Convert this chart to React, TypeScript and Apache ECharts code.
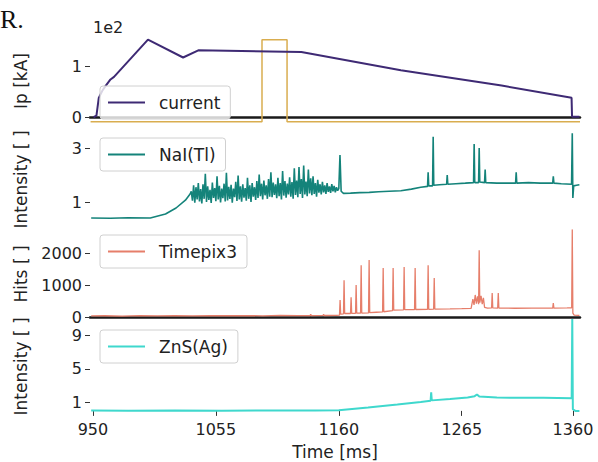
import React, { useEffect, useRef } from "react";
import * as echarts from "echarts";

// ---------- data ----------
const xTicks = [950, 1055, 1160, 1265, 1360];
const currentTicks = [0, 100];
const naiTicks = [1, 3];
const timepixTicks = [0, 1000, 2000];
const znsTicks = [1, 5, 9];

// plasma current [kA] vs time [ms]
const currentData: [number, number][] = [
  [950.5, 0], [953, 3], [955, 38], [958, 52], [961, 62], [965, 74], [968, 79],
  [997, 152], [1027, 117], [1040, 131], [1128, 128], [1213, 92], [1299, 62],
  [1358.8, 38], [1359.2, 1], [1365.5, 1],
];

// trigger window (same panel)
const triggerData: [number, number][] = [
  [948, -9], [1094.4, -9], [1094.4, 152], [1115.8, 152], [1115.8, -9], [1366, -9],
];

// NaI(Tl) intensity
const naiData: [number, number][] = [
  [948.5, 0.41], [965, 0.4], [980, 0.42], [999, 0.41], [1012, 0.56], [1021, 0.78], [1029, 1.07], [1033, 1.3],
  [1034, 1.40], [1035, 1.05], [1036, 1.62], [1037, 0.98], [1038, 1.55], [1039, 1.10], [1040, 1.70], [1041, 1.02],
  [1042, 1.48], [1043, 0.95], [1044, 1.66], [1045, 1.12], [1046, 2.05], [1047, 1.00], [1048, 1.58], [1049, 1.08],
  [1050, 1.45], [1051, 0.97], [1052, 1.72], [1053, 1.15], [1054, 1.52], [1055, 1.03], [1056, 1.95], [1057, 1.10],
  [1058, 1.60], [1059, 0.99], [1060, 1.50], [1061, 1.14], [1062, 1.68], [1063, 1.02], [1064, 2.08], [1065, 1.06],
  [1066, 1.56], [1067, 1.12], [1068, 1.64], [1069, 0.98], [1070, 1.50], [1071, 1.18], [1072, 1.75], [1073, 1.04],
  [1074, 1.98], [1075, 1.10], [1076, 1.58], [1077, 1.01], [1078, 1.66], [1079, 1.16], [1080, 1.52], [1081, 1.05],
  [1082, 1.90], [1083, 1.12], [1084, 1.62], [1085, 1.00], [1086, 1.70], [1087, 1.20], [1088, 1.55], [1089, 1.08],
  [1090, 1.78], [1091, 1.15], [1092, 2.02], [1093, 1.22], [1094, 1.68], [1095, 1.10], [1096, 1.80], [1097, 1.25],
  [1098, 1.62], [1099, 1.12], [1100, 1.85], [1101, 1.20], [1102, 2.10], [1103, 1.18], [1104, 1.72], [1105, 1.26],
  [1106, 1.66], [1107, 1.14], [1108, 1.90], [1109, 1.22], [1110, 1.70], [1111, 1.10], [1112, 2.15], [1113, 1.24],
  [1114, 1.78], [1115, 1.16], [1116, 1.68], [1117, 1.28], [1118, 1.92], [1119, 1.20], [1120, 1.74], [1121, 1.12],
  [1122, 2.25], [1123, 1.26], [1124, 1.80], [1125, 1.18], [1126, 2.30], [1127, 1.30], [1128, 1.85], [1129, 1.15],
  [1130, 2.35], [1131, 1.28], [1132, 1.76], [1133, 1.22], [1134, 2.20], [1135, 1.32], [1136, 1.88], [1137, 1.25],
  [1138, 1.95], [1139, 1.30], [1140, 1.70], [1141, 1.20], [1142, 1.82], [1143, 1.35], [1144, 1.66], [1145, 1.28],
  [1146, 1.75], [1147, 1.36], [1148, 1.62], [1149, 1.30], [1150, 1.70], [1151, 1.38], [1152, 1.58], [1153, 1.34],
  [1154, 1.66], [1155, 1.40], [1156, 1.60], [1157, 1.36], [1158, 1.55], [1159, 1.42], [1160, 1.50], [1161, 2.74],
  [1162, 1.40], [1164, 1.32], [1170, 1.33], [1178, 1.35], [1186, 1.36], [1194, 1.38], [1203, 1.40], [1213, 1.42],
  [1222, 1.48], [1230, 1.55], [1235.8, 1.58], [1236.3, 2.1], [1236.8, 1.6], [1240.1, 1.6], [1240.6, 3.42],
  [1241.1, 1.62], [1246, 1.64], [1252.1, 1.66], [1252.6, 2.0], [1253.1, 1.66], [1260, 1.68], [1268, 1.7],
  [1275.1, 1.72], [1275.6, 3.15], [1276.1, 1.72], [1279.4, 1.72], [1279.9, 3.0], [1280.4, 1.74], [1284.5, 1.72],
  [1285, 2.2], [1285.5, 1.72], [1295, 1.7], [1305, 1.7], [1311, 1.7], [1311.5, 2.1], [1312, 1.7], [1322, 1.72],
  [1332, 1.7], [1342.7, 1.7], [1343.2, 1.95], [1343.7, 1.7], [1350, 1.68], [1358.8, 1.66], [1359.4, 3.55],
  [1359.9, 1.15], [1360.6, 1.6], [1363, 1.62], [1365.5, 1.64],
];

// NaI(Tl) dense-noise envelope (lower / upper edge of the solid band)
const naiBandTime = [1034, 1045, 1060, 1075, 1090, 1105, 1120, 1135, 1150, 1160];
const naiBandLow = [1.12, 1.06, 1.08, 1.1, 1.15, 1.2, 1.22, 1.28, 1.35, 1.42];
const naiBandHigh = [1.45, 1.55, 1.55, 1.58, 1.65, 1.7, 1.75, 1.78, 1.65, 1.52];

// Timepix3 hits
const timepixData: [number, number][] = [
  [948.5, 35], [960, 40], [975, 30], [990, 45], [1005, 38], [1020, 42], [1035, 36], [1050, 44], [1065, 40],
  [1080, 46], [1095, 38], [1110, 50], [1125, 44], [1135.5, 48], [1136, 90], [1136.5, 46], [1146.5, 50],
  [1147, 85], [1147.5, 48], [1158, 50], [1160.6, 60], [1161.1, 530], [1161.6, 90], [1164, 100], [1164.5, 1150],
  [1165, 110], [1170, 110], [1170.5, 620], [1171, 115], [1174.3, 115], [1174.8, 1000], [1175.3, 120],
  [1178.6, 120], [1179.1, 1620], [1179.6, 125], [1185.4, 130], [1185.9, 1780], [1186.4, 135], [1192, 150],
  [1197.4, 160], [1197.9, 1530], [1198.4, 165], [1205.9, 200], [1206.4, 1530], [1206.9, 215], [1215.3, 225],
  [1215.8, 1560], [1216.3, 230], [1224.7, 235], [1225.2, 1530], [1225.7, 235], [1235.8, 240], [1236.3, 1620],
  [1236.8, 240], [1241, 245], [1241.5, 1220], [1242, 250], [1255, 255], [1265, 260], [1273, 270], [1274.5, 560],
  [1275.5, 380], [1276.5, 690], [1277.5, 420], [1278.5, 650], [1279.4, 400], [1279.9, 2090], [1280.4, 450],
  [1281.5, 660], [1282.5, 400], [1283.5, 600], [1284.5, 300], [1287, 280], [1290.5, 285], [1291, 750],
  [1291.5, 285], [1295.7, 280], [1296.2, 750], [1296.7, 280], [1310, 275], [1325, 280], [1342.7, 280],
  [1343.2, 440], [1343.7, 280], [1355, 285], [1358.9, 290], [1359.4, 2740], [1359.9, 120], [1361, 60], [1365.5, 55],
];

// ZnS(Ag) intensity
const znsData: [number, number][] = [
  [948.5, 0.05], [980, 0.02], [1020, 0.05], [1060, 0.03], [1100, 0.05], [1140, 0.04], [1160, 0.08],
  [1185, 0.4], [1210, 0.75], [1230, 1.05], [1238.4, 1.2], [1238.9, 2.2], [1239.4, 1.25], [1255, 1.4],
  [1270, 1.6], [1276, 1.75], [1278, 1.95], [1280, 1.7], [1295, 1.6], [1315, 1.55], [1335, 1.55],
  [1358.9, 1.5], [1359.4, 11], [1359.9, 0.2], [1362, 0.0], [1365.5, 0.0],
];

// ---------- styles ----------
const FONT = "DejaVu Sans";
const TXT = "#222";
const X_MIN = 947.5;
const X_MAX = 1366;
const NAI_COLOR = "#14837a";

const grids = [
  { left: 90, right: 18, top: 33, height: 96 },
  { left: 90, right: 18, top: 131, height: 97 },
  { left: 90, right: 18, top: 230, height: 88 },
  { left: 90, right: 18, top: 320, height: 93 },
];

function xAxis(i: number, bottomLine: boolean, labels: boolean) {
  return {
    type: "value",
    gridIndex: i,
    min: X_MIN,
    max: X_MAX,
    splitLine: { show: false },
    axisLine: { show: bottomLine, lineStyle: { color: "#1a1a1a", width: 2.5 } },
    axisTick: labels
      ? { show: true, customValues: xTicks, length: 5, lineStyle: { color: "#333" } }
      : { show: false },
    axisLabel: labels
      ? {
          show: true,
          customValues: xTicks,
          fontSize: 16,
          fontFamily: FONT,
          color: TXT,
          margin: 8,
          formatter: (v: number) => String(v),
        }
      : { show: false },
    name: labels ? "Time [ms]" : "",
    nameLocation: "middle",
    nameGap: 30,
    nameTextStyle: { fontSize: 17, fontFamily: FONT, color: TXT },
  };
}

function yAxis(i: number, name: string, min: number, max: number, ticks: number[], fmt?: (v: number) => string) {
  return {
    type: "value",
    gridIndex: i,
    min,
    max,
    splitLine: { show: false },
    axisLine: { show: false },
    axisTick: { show: true, customValues: ticks, length: 5, lineStyle: { color: "#333" } },
    axisLabel: {
      show: true,
      customValues: ticks,
      fontSize: 16,
      fontFamily: FONT,
      color: TXT,
      margin: 8,
      formatter: fmt ? (v: number) => fmt(v) : (v: number) => String(v),
    },
    name,
    nameLocation: "middle",
    nameRotate: 90,
    nameGap: 61,
    nameTextStyle: { fontSize: 17, fontFamily: FONT, color: TXT },
  };
}

function legend(name: string, top: number) {
  return {
    data: [name],
    left: 100,
    top,
    icon: "rect",
    itemWidth: 37,
    itemHeight: 2,
    borderColor: "#d0d0d0",
    borderWidth: 1,
    borderRadius: 3,
    backgroundColor: "rgba(255,255,255,0.8)",
    padding: [8, 10, 8, 8],
    selectedMode: false,
    textStyle: { fontSize: 17, fontFamily: FONT, color: TXT, padding: [0, 0, 0, 9] },
  };
}

export default function App() {
  const ref = useRef<HTMLDivElement>(null);

  useEffect(() => {
    document.body.style.margin = "0";
    if (!ref.current) return;
    const chart = echarts.init(ref.current, undefined, { renderer: "svg" });
    const bandLow = naiBandTime.map((t, k) => [t, naiBandLow[k]]);
    const bandThick = naiBandTime.map((t, k) => [t, naiBandHigh[k] - naiBandLow[k]]);
    chart.setOption({
      animation: false,
      backgroundColor: "#ffffff",
      grid: grids,
      xAxis: [xAxis(0, true, false), xAxis(1, false, false), xAxis(2, true, false), xAxis(3, false, true)],
      yAxis: [
        yAxis(0, "Ip [kA]", -23, 165, currentTicks, (v) => String(v / 100)),
        yAxis(1, "Intensity [ ]", 0.04, 3.63, naiTicks),
        yAxis(2, "Hits [ ]", -30, 2720, timepixTicks),
        yAxis(3, "Intensity [ ]", -0.25, 10.8, znsTicks),
      ],
      legend: [
        legend("current", 86),
        legend("NaI(Tl)", 138),
        legend("Timepix3", 235),
        legend("ZnS(Ag)", 330),
      ],
      series: [
        {
          name: "trigger",
          type: "line",
          xAxisIndex: 0,
          yAxisIndex: 0,
          data: triggerData,
          symbol: "none",
          lineStyle: { color: "#d9ad4f", width: 1.5 },
          z: 2,
        },
        {
          name: "current",
          type: "line",
          xAxisIndex: 0,
          yAxisIndex: 0,
          data: currentData,
          symbol: "none",
          color: "#3e2a74",
          lineStyle: { color: "#3e2a74", width: 2 },
          z: 3,
        },
        {
          name: "naiBandBase",
          type: "line",
          xAxisIndex: 1,
          yAxisIndex: 1,
          stack: "naiBand",
          data: bandLow,
          symbol: "none",
          lineStyle: { opacity: 0 },
          silent: true,
        },
        {
          name: "naiBandFill",
          type: "line",
          xAxisIndex: 1,
          yAxisIndex: 1,
          stack: "naiBand",
          data: bandThick,
          symbol: "none",
          lineStyle: { opacity: 0 },
          areaStyle: { color: NAI_COLOR, opacity: 1 },
          silent: true,
        },
        {
          name: "NaI(Tl)",
          type: "line",
          xAxisIndex: 1,
          yAxisIndex: 1,
          data: naiData,
          symbol: "none",
          color: NAI_COLOR,
          lineStyle: { color: NAI_COLOR, width: 1.6 },
        },
        {
          name: "Timepix3",
          type: "line",
          xAxisIndex: 2,
          yAxisIndex: 2,
          data: timepixData,
          symbol: "none",
          color: "#e67e6a",
          lineStyle: { color: "#e67e6a", width: 1.3 },
        },
        {
          name: "ZnS(Ag)",
          type: "line",
          xAxisIndex: 3,
          yAxisIndex: 3,
          data: znsData,
          symbol: "none",
          color: "#3fd8cd",
          lineStyle: { color: "#3fd8cd", width: 2 },
        },
      ],
      graphic: [
        {
          type: "text",
          left: 93,
          top: 19,
          style: { text: "1e2", fontSize: 16, fontFamily: FONT, fill: TXT },
        },
        {
          type: "text",
          x: 0,
          y: 6,
          style: { text: "R.", fontSize: 26, fontFamily: "Liberation Serif", fill: "#111" },
        },
      ],
    });
    return () => chart.dispose();
  }, []);

  return <div ref={ref} style={{ width: 598, height: 462 }} />;
}
